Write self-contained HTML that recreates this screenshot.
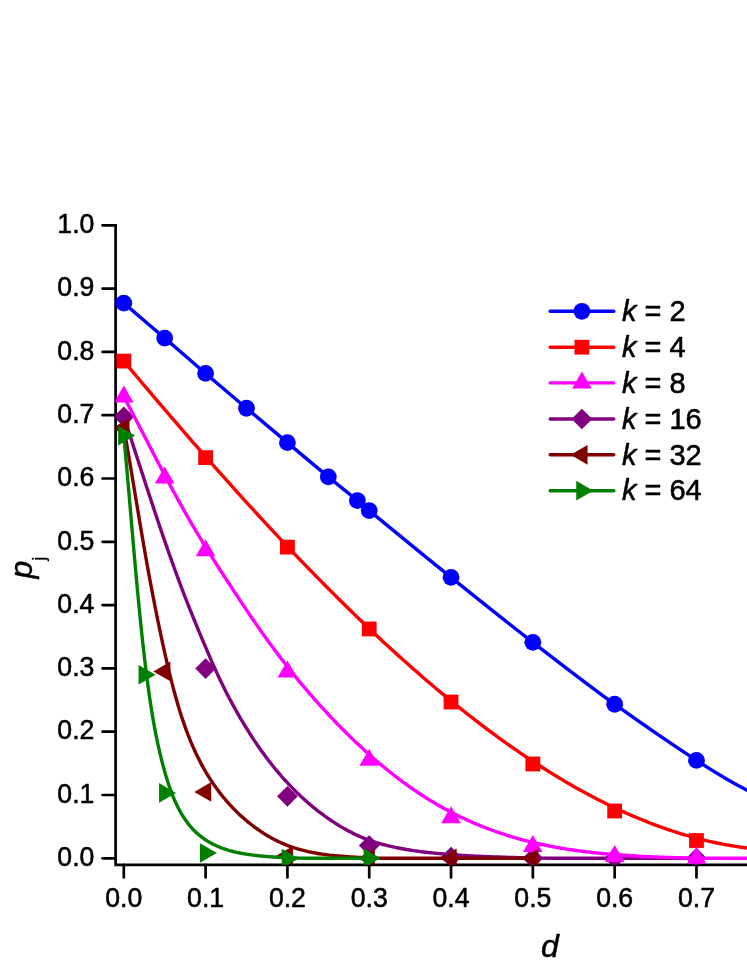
<!DOCTYPE html>
<html><head><meta charset="utf-8"><title>chart</title>
<style>html,body{margin:0;padding:0;background:#fff;}body{width:747px;height:967px;overflow:hidden;font-family:"Liberation Sans",sans-serif;}</style>
</head><body>
<svg width="747" height="967" viewBox="0 0 747 967" style="display:block;will-change:transform">
<rect width="747" height="967" fill="#ffffff"/>
<g stroke="#000" stroke-width="2.7" fill="none">
<path d="M115.6,223.95 L115.6,864.9 L752,864.9" stroke-linejoin="miter"/>
</g>
<g stroke="#000" stroke-width="2.7" stroke-linecap="round">
<line x1="102.6" y1="858.30" x2="115.6" y2="858.30"/>
<line x1="102.6" y1="795.00" x2="115.6" y2="795.00"/>
<line x1="102.6" y1="731.70" x2="115.6" y2="731.70"/>
<line x1="102.6" y1="668.40" x2="115.6" y2="668.40"/>
<line x1="102.6" y1="605.10" x2="115.6" y2="605.10"/>
<line x1="102.6" y1="541.80" x2="115.6" y2="541.80"/>
<line x1="102.6" y1="478.50" x2="115.6" y2="478.50"/>
<line x1="102.6" y1="415.20" x2="115.6" y2="415.20"/>
<line x1="102.6" y1="351.90" x2="115.6" y2="351.90"/>
<line x1="102.6" y1="288.60" x2="115.6" y2="288.60"/>
<line x1="102.6" y1="225.30" x2="115.6" y2="225.30"/>
<line x1="123.80" y1="864.9" x2="123.80" y2="877.4"/>
<line x1="205.61" y1="864.9" x2="205.61" y2="877.4"/>
<line x1="287.42" y1="864.9" x2="287.42" y2="877.4"/>
<line x1="369.23" y1="864.9" x2="369.23" y2="877.4"/>
<line x1="451.04" y1="864.9" x2="451.04" y2="877.4"/>
<line x1="532.85" y1="864.9" x2="532.85" y2="877.4"/>
<line x1="614.66" y1="864.9" x2="614.66" y2="877.4"/>
<line x1="696.47" y1="864.9" x2="696.47" y2="877.4"/>
</g>
<defs><clipPath id="pc"><rect x="115.55" y="0" width="700" height="864.85"/></clipPath></defs>
<g clip-path="url(#pc)">
<path d="M123.80,303.16 C130.62,308.98 151.07,326.39 164.70,338.10 C178.34,349.81 191.98,361.73 205.61,373.42 C219.25,385.11 232.88,396.70 246.51,408.24 C260.15,419.78 273.79,431.23 287.42,442.67 C301.06,454.12 316.67,467.27 328.32,476.92 C339.98,486.56 350.55,494.92 357.37,500.53 C364.19,506.14 353.62,497.79 369.23,510.59 C384.84,523.40 423.77,555.42 451.04,577.37 C478.31,599.33 505.58,621.18 532.85,642.32 C560.12,663.46 587.39,684.55 614.66,704.23 C641.93,723.90 674.41,746.06 696.47,760.37 C718.53,774.69 731.41,782.50 747.00,790.10 C762.59,797.70 782.83,803.35 790.00,806.00" fill="none" stroke="#0000ff" stroke-width="3.4" stroke-linejoin="round" stroke-linecap="round"/>
<circle cx="123.80" cy="303.16" r="8.4" fill="#0000ff"/>
<circle cx="164.70" cy="338.10" r="8.4" fill="#0000ff"/>
<circle cx="205.61" cy="373.42" r="8.4" fill="#0000ff"/>
<circle cx="246.51" cy="408.24" r="8.4" fill="#0000ff"/>
<circle cx="287.42" cy="442.67" r="8.4" fill="#0000ff"/>
<circle cx="328.32" cy="476.92" r="8.4" fill="#0000ff"/>
<circle cx="357.37" cy="500.53" r="8.4" fill="#0000ff"/>
<circle cx="369.23" cy="510.59" r="8.4" fill="#0000ff"/>
<circle cx="451.04" cy="577.37" r="8.4" fill="#0000ff"/>
<circle cx="532.85" cy="642.32" r="8.4" fill="#0000ff"/>
<circle cx="614.66" cy="704.23" r="8.4" fill="#0000ff"/>
<circle cx="696.47" cy="760.37" r="8.4" fill="#0000ff"/>
<path d="M123.70,361.06 C124.63,362.17 127.43,365.51 129.30,367.73 C131.17,369.95 133.03,372.17 134.90,374.38 C136.76,376.60 138.63,378.81 140.50,381.01 C142.36,383.22 144.23,385.43 146.10,387.63 C147.96,389.83 149.83,392.03 151.70,394.23 C153.56,396.42 155.43,398.62 157.29,400.80 C159.16,402.99 161.03,405.18 162.89,407.36 C164.76,409.54 166.63,411.72 168.49,413.90 C170.36,416.07 172.23,418.24 174.09,420.41 C175.96,422.58 177.83,424.74 179.69,426.90 C181.56,429.06 183.42,431.21 185.29,433.37 C187.16,435.52 189.02,437.67 190.89,439.81 C192.76,441.95 194.62,444.09 196.49,446.23 C198.36,448.36 200.22,450.50 202.09,452.62 C203.95,454.75 205.82,456.87 207.69,458.99 C209.55,461.11 211.42,463.22 213.29,465.33 C215.15,467.44 217.02,469.55 218.89,471.65 C220.75,473.75 222.62,475.84 224.48,477.93 C226.35,480.02 228.22,482.11 230.08,484.19 C231.95,486.27 233.82,488.35 235.68,490.42 C237.55,492.49 239.42,494.55 241.28,496.62 C243.15,498.68 245.02,500.73 246.88,502.78 C248.75,504.83 250.61,506.88 252.48,508.92 C254.35,510.96 256.21,513.00 258.08,515.02 C259.95,517.05 261.81,519.08 263.68,521.10 C265.55,523.11 267.41,525.13 269.28,527.14 C271.14,529.14 273.01,531.14 274.88,533.14 C276.74,535.14 278.61,537.13 280.48,539.11 C282.34,541.09 284.21,543.07 286.08,545.04 C287.94,547.02 289.81,548.98 291.67,550.94 C293.54,552.90 295.41,554.86 297.27,556.81 C299.14,558.75 301.01,560.70 302.87,562.63 C304.74,564.57 306.61,566.49 308.47,568.42 C310.34,570.34 312.21,572.26 314.07,574.17 C315.94,576.08 317.80,577.98 319.67,579.87 C321.54,581.77 323.40,583.66 325.27,585.54 C327.14,587.43 329.00,589.30 330.87,591.17 C332.74,593.04 334.60,594.90 336.47,596.76 C338.33,598.61 340.20,600.46 342.07,602.30 C343.93,604.15 345.80,605.98 347.67,607.81 C349.53,609.63 351.40,611.45 353.27,613.27 C355.13,615.08 357.00,616.88 358.86,618.68 C360.73,620.48 362.60,622.27 364.46,624.05 C366.33,625.83 368.20,627.61 370.06,629.38 C371.93,631.14 373.80,632.90 375.66,634.65 C377.53,636.41 379.39,638.15 381.26,639.89 C383.13,641.62 384.99,643.35 386.86,645.07 C388.73,646.79 390.59,648.50 392.46,650.21 C394.33,651.91 396.19,653.61 398.06,655.30 C399.93,656.99 401.79,658.66 403.66,660.34 C405.52,662.01 407.39,663.67 409.26,665.33 C411.12,666.98 412.99,668.63 414.86,670.26 C416.72,671.90 418.59,673.53 420.46,675.15 C422.32,676.77 424.19,678.38 426.05,679.98 C427.92,681.59 429.79,683.18 431.65,684.77 C433.52,686.35 435.39,687.93 437.25,689.50 C439.12,691.06 440.99,692.62 442.85,694.17 C444.72,695.72 446.58,697.26 448.45,698.79 C450.32,700.32 452.18,701.84 454.05,703.35 C455.92,704.87 457.78,706.37 459.65,707.86 C461.52,709.36 463.38,710.84 465.25,712.31 C467.12,713.79 468.98,715.25 470.85,716.71 C472.71,718.16 474.58,719.61 476.45,721.04 C478.31,722.48 480.18,723.91 482.05,725.32 C483.91,726.74 485.78,728.14 487.65,729.54 C489.51,730.94 491.38,732.32 493.24,733.70 C495.11,735.07 496.98,736.44 498.84,737.79 C500.71,739.15 502.58,740.50 504.44,741.83 C506.31,743.17 508.18,744.49 510.04,745.80 C511.91,747.12 513.77,748.42 515.64,749.71 C517.51,751.01 519.37,752.29 521.24,753.56 C523.11,754.83 524.97,756.10 526.84,757.35 C528.71,758.60 530.57,759.84 532.44,761.06 C534.31,762.29 536.17,763.51 538.04,764.72 C539.90,765.92 541.77,767.12 543.64,768.30 C545.50,769.49 547.37,770.66 549.24,771.82 C551.10,772.99 552.97,774.14 554.84,775.28 C556.70,776.42 558.57,777.54 560.43,778.66 C562.30,779.78 564.17,780.88 566.03,781.98 C567.90,783.07 569.77,784.15 571.63,785.22 C573.50,786.29 575.37,787.35 577.23,788.40 C579.10,789.45 580.96,790.48 582.83,791.50 C584.70,792.53 586.56,793.54 588.43,794.54 C590.30,795.54 592.16,796.52 594.03,797.50 C595.90,798.47 597.76,799.44 599.63,800.39 C601.49,801.34 603.36,802.28 605.23,803.20 C607.09,804.13 608.96,805.04 610.83,805.94 C612.69,806.85 614.56,807.73 616.43,808.61 C618.29,809.49 620.16,810.35 622.03,811.20 C623.89,812.05 625.76,812.89 627.62,813.72 C629.49,814.54 631.36,815.35 633.22,816.15 C635.09,816.95 636.96,817.74 638.82,818.51 C640.69,819.29 642.56,820.05 644.42,820.80 C646.29,821.54 648.15,822.28 650.02,823.00 C651.89,823.72 653.75,824.43 655.62,825.12 C657.49,825.82 659.35,826.50 661.22,827.17 C663.09,827.83 664.95,828.49 666.82,829.13 C668.68,829.77 670.55,830.40 672.42,831.01 C674.28,831.62 676.15,832.22 678.02,832.81 C679.88,833.39 681.75,833.97 683.62,834.52 C685.48,835.08 687.35,835.63 689.22,836.16 C691.08,836.69 692.95,837.20 694.81,837.71 C696.68,838.21 698.55,838.69 700.41,839.17 C702.28,839.64 704.15,840.10 706.01,840.55 C707.88,840.99 709.75,841.42 711.61,841.84 C713.48,842.25 715.34,842.66 717.21,843.04 C719.08,843.43 720.94,843.80 722.81,844.16 C724.68,844.52 726.54,844.86 728.41,845.19 C730.28,845.52 732.14,845.83 734.01,846.13 C735.87,846.43 737.74,846.71 739.61,846.98 C741.47,847.25 743.34,847.50 745.21,847.74 C747.07,847.98 748.94,848.20 750.81,848.41 C752.67,848.61 754.54,848.81 756.41,848.98 C758.27,849.16 760.14,849.32 762.00,849.47 C763.87,849.62 765.74,849.75 767.60,849.86 C769.47,849.98 771.34,850.08 773.20,850.16 C775.07,850.24 776.94,850.31 778.80,850.36 C780.67,850.42 782.53,850.45 784.40,850.47 C786.27,850.49 789.07,850.48 790.00,850.49" fill="none" stroke="#ff0000" stroke-width="3.4" stroke-linejoin="round" stroke-linecap="round"/>
<rect x="116.40" y="353.68" width="14.8" height="14.8" fill="#ff0000"/>
<rect x="198.21" y="450.21" width="14.8" height="14.8" fill="#ff0000"/>
<rect x="280.02" y="539.72" width="14.8" height="14.8" fill="#ff0000"/>
<rect x="361.83" y="621.56" width="14.8" height="14.8" fill="#ff0000"/>
<rect x="443.64" y="694.61" width="14.8" height="14.8" fill="#ff0000"/>
<rect x="525.45" y="756.58" width="14.8" height="14.8" fill="#ff0000"/>
<rect x="607.26" y="803.61" width="14.8" height="14.8" fill="#ff0000"/>
<rect x="689.07" y="833.11" width="14.8" height="14.8" fill="#ff0000"/>
<path d="M123.80,416.80 C123.81,416.82 123.82,416.85 123.85,416.92 C123.87,416.99 123.91,417.10 123.95,417.23 C123.99,417.35 124.04,417.50 124.09,417.67 C124.15,417.83 124.21,418.02 124.28,418.23 C124.34,418.43 124.42,418.66 124.50,418.89 C124.58,419.13 124.66,419.39 124.75,419.66 C124.84,419.94 124.94,420.22 125.04,420.53 C125.14,420.83 125.24,421.15 125.35,421.48 C125.46,421.82 125.58,422.17 125.69,422.53 C125.81,422.89 125.94,423.27 126.07,423.66 C126.19,424.05 126.33,424.46 126.46,424.87 C126.60,425.29 126.74,425.72 126.89,426.17 C127.04,426.61 127.19,427.07 127.34,427.54 C127.49,428.01 127.65,428.50 127.82,429.00 C127.98,429.49 128.14,430.00 128.31,430.52 C128.49,431.05 128.66,431.58 128.84,432.13 C129.02,432.67 129.20,433.23 129.39,433.80 C129.57,434.37 129.76,434.96 129.96,435.55 C130.15,436.15 130.35,436.75 130.55,437.37 C130.75,437.99 130.95,438.62 131.16,439.26 C131.37,439.90 131.58,440.55 131.80,441.22 C132.02,441.88 132.23,442.56 132.46,443.24 C132.68,443.93 132.91,444.63 133.14,445.34 C133.37,446.05 133.60,446.77 133.84,447.50 C134.08,448.23 134.32,448.97 134.56,449.72 C134.80,450.47 135.05,451.24 135.30,452.01 C135.55,452.78 135.81,453.57 136.06,454.36 C136.32,455.16 136.58,455.96 136.85,456.78 C137.11,457.59 137.38,458.42 137.65,459.25 C137.92,460.09 138.19,460.93 138.47,461.79 C138.75,462.65 139.03,463.51 139.31,464.39 C139.59,465.26 139.88,466.15 140.17,467.04 C140.46,467.93 140.75,468.84 141.05,469.75 C141.35,470.67 141.64,471.59 141.95,472.52 C142.25,473.45 142.56,474.39 142.86,475.34 C143.17,476.30 143.48,477.25 143.80,478.22 C144.11,479.19 144.43,480.17 144.75,481.15 C145.07,482.14 145.40,483.14 145.72,484.14 C146.05,485.14 146.38,486.15 146.71,487.17 C147.05,488.19 147.38,489.22 147.72,490.26 C148.06,491.29 148.40,492.34 148.75,493.39 C149.09,494.44 149.44,495.50 149.79,496.57 C150.14,497.64 150.50,498.71 150.85,499.80 C151.21,500.88 151.57,501.97 151.93,503.07 C152.29,504.16 152.66,505.27 153.03,506.38 C153.39,507.49 153.76,508.61 154.14,509.74 C154.51,510.86 154.89,511.99 155.27,513.13 C155.65,514.27 156.03,515.42 156.41,516.57 C156.80,517.72 157.19,518.88 157.58,520.04 C157.97,521.20 158.36,522.37 158.76,523.55 C159.15,524.72 159.55,525.90 159.95,527.09 C160.36,528.28 160.76,529.47 161.17,530.67 C161.58,531.86 161.99,533.07 162.40,534.27 C162.81,535.48 163.23,536.69 163.64,537.91 C164.06,539.13 164.48,540.35 164.91,541.57 C165.33,542.80 165.76,544.03 166.19,545.26 C166.61,546.50 167.05,547.73 167.48,548.98 C167.91,550.22 168.35,551.46 168.79,552.71 C169.23,553.96 169.67,555.22 170.12,556.47 C170.56,557.73 171.01,558.99 171.46,560.25 C171.91,561.51 172.36,562.77 172.82,564.04 C173.27,565.31 173.73,566.58 174.19,567.85 C174.65,569.12 175.12,570.40 175.58,571.67 C176.05,572.95 176.52,574.23 176.99,575.51 C177.46,576.79 177.93,578.07 178.41,579.35 C178.88,580.64 179.36,581.92 179.84,583.21 C180.32,584.49 180.81,585.78 181.29,587.07 C181.78,588.35 182.27,589.64 182.76,590.93 C183.25,592.22 183.75,593.51 184.24,594.80 C184.74,596.08 185.24,597.37 185.74,598.66 C186.24,599.95 186.74,601.24 187.25,602.53 C187.76,603.82 188.27,605.10 188.78,606.39 C189.29,607.68 189.80,608.97 190.32,610.26 C190.84,611.55 191.35,612.83 191.88,614.12 C192.40,615.41 192.92,616.71 193.45,618.00 C193.97,619.29 194.50,620.58 195.03,621.88 C195.56,623.17 196.10,624.47 196.63,625.77 C197.17,627.07 197.71,628.37 198.25,629.67 C198.79,630.98 199.33,632.28 199.88,633.59 C200.42,634.90 200.97,636.21 201.52,637.53 C202.07,638.84 202.63,640.16 203.18,641.48 C203.74,642.80 204.29,644.12 204.85,645.45 C205.41,646.78 205.98,648.10 206.54,649.43 C207.11,650.76 207.67,652.09 208.24,653.42 C208.81,654.75 209.39,656.07 209.96,657.40 C210.53,658.73 211.11,660.05 211.69,661.37 C212.27,662.69 212.85,664.01 213.43,665.32 C214.02,666.63 214.60,667.94 215.19,669.24 C215.78,670.55 216.37,671.84 216.97,673.13 C217.56,674.42 218.15,675.71 218.75,676.98 C219.35,678.26 219.95,679.53 220.55,680.79 C221.16,682.04 221.76,683.30 222.37,684.54 C222.97,685.78 223.58,687.01 224.20,688.24 C224.81,689.47 225.42,690.68 226.04,691.90 C226.65,693.11 227.27,694.31 227.89,695.50 C228.51,696.70 229.14,697.89 229.76,699.07 C230.39,700.25 231.02,701.42 231.65,702.59 C232.28,703.76 232.91,704.92 233.54,706.07 C234.18,707.22 234.82,708.37 235.45,709.51 C236.09,710.65 236.73,711.78 237.38,712.91 C238.02,714.04 238.67,715.16 239.32,716.27 C239.96,717.39 240.61,718.50 241.27,719.60 C241.92,720.70 242.57,721.80 243.23,722.89 C243.89,723.98 244.55,725.06 245.21,726.14 C245.87,727.22 246.53,728.30 247.20,729.36 C247.87,730.43 248.53,731.49 249.20,732.55 C249.88,733.61 250.55,734.66 251.22,735.71 C251.90,736.76 252.57,737.80 253.25,738.83 C253.93,739.87 254.61,740.90 255.30,741.92 C255.98,742.95 256.67,743.96 257.36,744.97 C258.04,745.98 258.73,746.98 259.43,747.97 C260.12,748.97 260.81,749.95 261.51,750.93 C262.21,751.91 262.91,752.88 263.61,753.84 C264.31,754.80 265.01,755.76 265.72,756.70 C266.42,757.65 267.13,758.59 267.84,759.52 C268.55,760.45 269.26,761.38 269.98,762.29 C270.69,763.21 271.41,764.12 272.12,765.02 C272.84,765.93 273.56,766.82 274.29,767.71 C275.01,768.60 275.73,769.48 276.46,770.35 C277.19,771.22 277.92,772.09 278.65,772.95 C279.38,773.81 280.11,774.66 280.85,775.50 C281.58,776.35 282.32,777.19 283.06,778.02 C283.80,778.85 284.54,779.67 285.29,780.49 C286.03,781.30 286.78,782.11 287.52,782.92 C288.27,783.72 289.02,784.52 289.77,785.30 C290.53,786.09 291.28,786.88 292.04,787.65 C292.79,788.43 293.55,789.19 294.31,789.96 C295.08,790.72 295.84,791.47 296.60,792.22 C297.37,792.97 298.14,793.71 298.90,794.45 C299.67,795.18 300.44,795.91 301.22,796.63 C301.99,797.35 302.77,798.07 303.54,798.77 C304.32,799.48 305.10,800.18 305.88,800.88 C306.67,801.57 307.45,802.26 308.23,802.94 C309.02,803.62 309.81,804.30 310.60,804.97 C311.39,805.63 312.18,806.30 312.97,806.95 C313.77,807.61 314.56,808.25 315.36,808.90 C316.16,809.54 316.96,810.17 317.76,810.80 C318.57,811.43 319.37,812.05 320.18,812.66 C320.98,813.28 321.79,813.88 322.60,814.48 C323.41,815.09 324.22,815.68 325.04,816.27 C325.85,816.85 326.67,817.43 327.49,818.01 C328.31,818.58 329.13,819.15 329.95,819.71 C330.77,820.27 331.60,820.82 332.42,821.37 C333.25,821.91 334.08,822.45 334.91,822.99 C335.74,823.52 336.57,824.04 337.41,824.56 C338.24,825.08 339.08,825.59 339.92,826.10 C340.76,826.61 341.60,827.10 342.44,827.60 C343.29,828.09 344.13,828.57 344.98,829.05 C345.82,829.52 346.67,829.99 347.52,830.46 C348.37,830.92 349.23,831.37 350.08,831.81 C350.94,832.26 351.79,832.69 352.65,833.12 C353.51,833.55 354.37,833.97 355.23,834.38 C356.10,834.79 356.96,835.19 357.83,835.59 C358.70,835.98 359.56,836.36 360.44,836.74 C361.31,837.11 362.18,837.48 363.05,837.84 C363.93,838.20 364.81,838.54 365.68,838.89 C366.56,839.23 367.44,839.56 368.33,839.88 C369.21,840.20 370.09,840.52 370.98,840.82 C371.87,841.13 372.75,841.43 373.64,841.72 C374.54,842.01 375.43,842.29 376.32,842.57 C377.22,842.84 378.11,843.11 379.01,843.37 C379.91,843.63 380.81,843.89 381.71,844.14 C382.61,844.38 383.52,844.62 384.42,844.86 C385.33,845.10 386.24,845.33 387.15,845.55 C388.06,845.77 388.97,845.99 389.88,846.20 C390.80,846.42 391.71,846.62 392.63,846.83 C393.55,847.03 394.47,847.23 395.39,847.42 C396.31,847.61 397.23,847.80 398.16,847.98 C399.09,848.16 400.01,848.34 400.94,848.51 C401.87,848.69 402.80,848.86 403.74,849.02 C404.67,849.19 405.60,849.35 406.54,849.50 C407.48,849.66 408.42,849.81 409.36,849.96 C410.30,850.11 411.24,850.26 412.19,850.40 C413.13,850.54 414.08,850.68 415.02,850.82 C415.97,850.95 416.92,851.08 417.88,851.21 C418.83,851.34 419.78,851.47 420.74,851.59 C421.69,851.71 422.65,851.83 423.61,851.95 C424.57,852.06 425.53,852.18 426.50,852.29 C427.46,852.40 428.43,852.51 429.39,852.61 C430.36,852.72 431.33,852.82 432.30,852.93 C433.27,853.03 434.25,853.12 435.22,853.22 C436.20,853.32 437.17,853.41 438.15,853.50 C439.13,853.59 440.11,853.68 441.09,853.77 C442.08,853.86 443.06,853.94 444.05,854.03 C445.03,854.11 446.02,854.19 447.01,854.27 C448.00,854.35 448.99,854.43 449.99,854.50 C450.98,854.58 451.98,854.65 452.97,854.73 C453.97,854.80 454.97,854.87 455.97,854.94 C456.97,855.01 457.98,855.08 458.98,855.14 C459.99,855.21 460.99,855.27 462.00,855.33 C463.01,855.40 464.02,855.46 465.03,855.52 C466.05,855.58 467.06,855.64 468.08,855.69 C469.09,855.75 470.11,855.81 471.13,855.86 C472.15,855.92 473.17,855.97 474.19,856.02 C475.22,856.07 476.24,856.13 477.27,856.17 C478.30,856.22 479.33,856.27 480.36,856.32 C481.39,856.37 482.42,856.41 483.46,856.46 C484.49,856.51 485.53,856.55 486.57,856.59 C487.60,856.64 488.64,856.68 489.69,856.72 C490.73,856.76 491.77,856.80 492.82,856.84 C493.86,856.88 494.91,856.92 495.96,856.96 C497.01,856.99 498.06,857.03 499.11,857.07 C500.16,857.10 501.22,857.14 502.28,857.17 C503.33,857.21 504.39,857.24 505.45,857.27 C506.51,857.30 507.57,857.34 508.64,857.37 C509.70,857.40 510.77,857.43 511.83,857.46 C512.90,857.49 513.97,857.52 515.04,857.55 C516.11,857.57 517.18,857.60 518.26,857.63 C519.33,857.66 520.41,857.68 521.49,857.71 C522.57,857.73 523.65,857.76 524.73,857.78 C525.81,857.81 526.89,857.83 527.98,857.85 C529.07,857.88 530.15,857.90 531.24,857.92 C532.33,857.94 533.42,857.97 534.51,857.99 C535.61,858.01 536.70,858.03 537.80,858.05 C538.89,858.07 539.99,858.09 541.09,858.11 C542.19,858.13 543.29,858.14 544.40,858.16 C545.50,858.18 546.61,858.20 547.71,858.21 C548.82,858.23 549.93,858.25 551.04,858.26 C552.15,858.28 553.26,858.29 554.38,858.30 C555.49,858.31 556.61,858.30 557.72,858.30 C558.84,858.30 559.96,858.30 561.08,858.30 C562.20,858.30 563.33,858.30 564.45,858.30 C565.58,858.30 566.70,858.30 567.83,858.30 C568.96,858.30 570.09,858.30 571.22,858.30 C572.35,858.30 573.49,858.30 574.62,858.30 C575.76,858.30 576.89,858.30 578.03,858.30 C579.17,858.30 580.31,858.30 581.46,858.30 C582.60,858.30 583.74,858.30 584.89,858.30 C586.03,858.30 587.18,858.30 588.33,858.30 C589.48,858.30 590.63,858.30 591.79,858.30 C592.94,858.30 594.09,858.30 595.25,858.30 C596.41,858.30 597.56,858.30 598.72,858.30 C599.88,858.30 601.05,858.30 602.21,858.30 C603.37,858.30 604.54,858.30 605.71,858.30 C606.87,858.30 608.04,858.30 609.21,858.30 C610.38,858.30 611.55,858.30 612.73,858.30 C613.90,858.30 615.08,858.30 616.26,858.30 C617.43,858.30 618.61,858.30 619.79,858.30 C620.97,858.30 622.16,858.30 623.34,858.30 C624.53,858.30 625.71,858.30 626.90,858.30 C628.09,858.30 629.28,858.30 630.47,858.30 C631.66,858.30 632.85,858.30 634.05,858.30 C635.24,858.30 636.44,858.30 637.64,858.30 C638.84,858.30 640.04,858.30 641.24,858.30 C642.44,858.30 643.64,858.30 644.85,858.30 C646.05,858.30 647.26,858.30 648.47,858.30 C649.68,858.30 650.89,858.30 652.10,858.30 C653.31,858.30 654.52,858.30 655.74,858.30 C656.96,858.30 658.17,858.30 659.39,858.30 C660.61,858.30 661.83,858.30 663.05,858.30 C664.28,858.30 665.50,858.30 666.73,858.30 C667.95,858.30 669.18,858.30 670.41,858.30 C671.64,858.30 672.87,858.30 674.10,858.30 C675.33,858.30 676.57,858.30 677.80,858.30 C679.04,858.30 680.28,858.30 681.52,858.30 C682.76,858.30 684.00,858.30 685.24,858.30 C686.48,858.30 687.73,858.30 688.97,858.30 C690.22,858.30 691.47,858.30 692.72,858.30 C693.97,858.30 695.84,858.30 696.47,858.30" fill="none" stroke="#800080" stroke-width="3.4" stroke-linejoin="round" stroke-linecap="round"/>
<polygon points="123.80,406.43 134.15,416.78 123.80,427.13 113.45,416.78" fill="#800080"/>
<polygon points="205.61,658.24 215.96,668.59 205.61,678.94 195.26,668.59" fill="#800080"/>
<polygon points="287.42,785.98 297.77,796.33 287.42,806.68 277.07,796.33" fill="#800080"/>
<polygon points="369.23,835.23 379.58,845.58 369.23,855.93 358.88,845.58" fill="#800080"/>
<polygon points="451.04,846.87 461.39,857.22 451.04,867.57 440.69,857.22" fill="#800080"/>
<polygon points="532.85,847.82 543.20,858.17 532.85,868.52 522.50,858.17" fill="#800080"/>
<polygon points="614.66,847.82 625.01,858.17 614.66,868.52 604.31,858.17" fill="#800080"/>
<polygon points="696.47,847.82 706.82,858.17 696.47,868.52 686.12,858.17" fill="#800080"/>
<path d="M123.80,396.90 C123.81,396.90 123.82,396.89 123.85,396.90 C123.88,396.91 123.92,396.89 123.96,396.95 C124.01,397.01 124.06,397.14 124.13,397.25 C124.19,397.37 124.26,397.50 124.33,397.64 C124.41,397.78 124.49,397.93 124.57,398.10 C124.66,398.26 124.76,398.44 124.86,398.63 C124.96,398.81 125.06,399.01 125.17,399.22 C125.28,399.43 125.40,399.65 125.52,399.88 C125.64,400.11 125.77,400.35 125.90,400.60 C126.04,400.85 126.17,401.11 126.32,401.38 C126.46,401.65 126.61,401.93 126.76,402.22 C126.91,402.51 127.07,402.81 127.23,403.11 C127.39,403.42 127.56,403.74 127.73,404.06 C127.90,404.39 128.08,404.72 128.26,405.06 C128.44,405.41 128.63,405.76 128.82,406.12 C129.01,406.48 129.20,406.85 129.40,407.23 C129.60,407.60 129.80,407.99 130.01,408.38 C130.21,408.78 130.42,409.18 130.64,409.59 C130.85,410.00 131.07,410.42 131.30,410.85 C131.52,411.28 131.75,411.71 131.98,412.16 C132.21,412.60 132.45,413.05 132.69,413.51 C132.93,413.97 133.17,414.44 133.42,414.91 C133.67,415.39 133.92,415.87 134.17,416.36 C134.43,416.86 134.69,417.35 134.95,417.86 C135.22,418.37 135.48,418.88 135.75,419.40 C136.02,419.93 136.30,420.45 136.58,420.99 C136.86,421.53 137.14,422.07 137.42,422.62 C137.71,423.18 138.00,423.73 138.29,424.30 C138.59,424.87 138.88,425.44 139.18,426.02 C139.48,426.60 139.79,427.19 140.10,427.79 C140.40,428.38 140.72,428.98 141.03,429.59 C141.35,430.20 141.66,430.82 141.99,431.44 C142.31,432.06 142.63,432.69 142.96,433.33 C143.29,433.97 143.62,434.61 143.96,435.26 C144.30,435.91 144.64,436.57 144.98,437.23 C145.32,437.90 145.67,438.57 146.02,439.24 C146.37,439.92 146.72,440.60 147.08,441.29 C147.43,441.98 147.79,442.68 148.16,443.38 C148.52,444.08 148.89,444.79 149.26,445.51 C149.63,446.22 150.00,446.94 150.38,447.67 C150.75,448.40 151.13,449.13 151.52,449.87 C151.90,450.61 152.28,451.35 152.67,452.10 C153.06,452.85 153.46,453.61 153.85,454.37 C154.25,455.13 154.65,455.90 155.05,456.67 C155.45,457.45 155.86,458.23 156.27,459.01 C156.68,459.79 157.09,460.58 157.50,461.38 C157.92,462.17 158.34,462.97 158.76,463.78 C159.18,464.58 159.60,465.39 160.03,466.21 C160.46,467.02 160.89,467.84 161.32,468.67 C161.76,469.49 162.20,470.32 162.64,471.16 C163.08,471.99 163.52,472.83 163.97,473.67 C164.41,474.52 164.86,475.37 165.31,476.22 C165.77,477.07 166.22,477.93 166.68,478.79 C167.14,479.65 167.60,480.51 168.06,481.38 C168.53,482.25 169.00,483.12 169.47,484.00 C169.94,484.88 170.41,485.76 170.89,486.64 C171.36,487.52 171.84,488.41 172.33,489.30 C172.81,490.19 173.29,491.09 173.78,491.99 C174.27,492.88 174.76,493.78 175.26,494.69 C175.75,495.59 176.25,496.50 176.75,497.41 C177.25,498.32 177.75,499.23 178.26,500.15 C178.76,501.06 179.27,501.98 179.78,502.90 C180.29,503.82 180.81,504.74 181.33,505.67 C181.84,506.59 182.36,507.52 182.89,508.45 C183.41,509.38 183.94,510.31 184.46,511.24 C184.99,512.18 185.53,513.11 186.06,514.05 C186.59,514.98 187.13,515.92 187.67,516.86 C188.21,517.80 188.76,518.74 189.30,519.69 C189.85,520.63 190.40,521.57 190.95,522.52 C191.50,523.46 192.05,524.41 192.61,525.35 C193.17,526.30 193.73,527.25 194.29,528.20 C194.85,529.15 195.42,530.10 195.99,531.05 C196.55,532.01 197.12,532.96 197.70,533.92 C198.27,534.87 198.85,535.83 199.43,536.79 C200.01,537.74 200.59,538.70 201.17,539.66 C201.76,540.63 202.34,541.59 202.93,542.55 C203.52,543.52 204.12,544.48 204.71,545.45 C205.31,546.41 205.91,547.38 206.51,548.35 C207.11,549.32 207.71,550.29 208.32,551.27 C208.92,552.24 209.53,553.22 210.14,554.19 C210.76,555.17 211.37,556.15 211.99,557.13 C212.60,558.11 213.22,559.09 213.85,560.07 C214.47,561.05 215.09,562.04 215.72,563.03 C216.35,564.01 216.98,565.00 217.61,565.99 C218.24,566.98 218.88,567.98 219.52,568.97 C220.16,569.97 220.80,570.96 221.44,571.96 C222.08,572.96 222.73,573.96 223.38,574.96 C224.03,575.97 224.68,576.97 225.33,577.98 C225.99,578.99 226.64,579.99 227.30,581.01 C227.96,582.02 228.62,583.03 229.29,584.05 C229.95,585.06 230.62,586.08 231.29,587.10 C231.96,588.12 232.63,589.15 233.30,590.17 C233.98,591.20 234.65,592.22 235.33,593.25 C236.01,594.28 236.70,595.32 237.38,596.35 C238.06,597.39 238.75,598.42 239.44,599.46 C240.13,600.50 240.82,601.54 241.52,602.59 C242.21,603.63 242.91,604.67 243.61,605.72 C244.31,606.77 245.01,607.81 245.72,608.86 C246.42,609.91 247.13,610.96 247.84,612.01 C248.55,613.06 249.26,614.12 249.98,615.17 C250.69,616.22 251.41,617.27 252.13,618.33 C252.85,619.38 253.57,620.43 254.30,621.49 C255.02,622.54 255.75,623.59 256.48,624.65 C257.21,625.70 257.94,626.75 258.68,627.81 C259.41,628.86 260.15,629.91 260.89,630.96 C261.63,632.01 262.37,633.06 263.12,634.11 C263.86,635.16 264.61,636.20 265.36,637.25 C266.11,638.30 266.86,639.34 267.62,640.38 C268.37,641.42 269.13,642.47 269.89,643.50 C270.65,644.54 271.41,645.58 272.17,646.62 C272.94,647.65 273.70,648.68 274.47,649.72 C275.24,650.75 276.01,651.78 276.79,652.80 C277.56,653.83 278.34,654.86 279.12,655.88 C279.90,656.91 280.68,657.93 281.46,658.95 C282.24,659.97 283.03,660.99 283.82,662.00 C284.61,663.02 285.40,664.03 286.19,665.05 C286.98,666.06 287.78,667.07 288.58,668.08 C289.38,669.09 290.18,670.09 290.98,671.10 C291.78,672.10 292.59,673.10 293.40,674.10 C294.20,675.10 295.01,676.10 295.83,677.10 C296.64,678.09 297.45,679.09 298.27,680.08 C299.09,681.07 299.91,682.06 300.73,683.05 C301.55,684.03 302.37,685.02 303.20,686.00 C304.03,686.98 304.86,687.96 305.69,688.94 C306.52,689.92 307.35,690.90 308.19,691.87 C309.02,692.84 309.86,693.82 310.70,694.78 C311.54,695.75 312.39,696.72 313.23,697.68 C314.08,698.65 314.92,699.61 315.77,700.57 C316.62,701.53 317.48,702.49 318.33,703.44 C319.18,704.39 320.04,705.35 320.90,706.29 C321.76,707.24 322.62,708.19 323.48,709.14 C324.35,710.08 325.21,711.02 326.08,711.96 C326.95,712.90 327.82,713.83 328.70,714.77 C329.57,715.70 330.44,716.63 331.32,717.56 C332.20,718.49 333.08,719.41 333.96,720.34 C334.84,721.26 335.73,722.18 336.61,723.10 C337.50,724.01 338.39,724.93 339.28,725.84 C340.17,726.75 341.07,727.66 341.96,728.56 C342.86,729.47 343.76,730.37 344.66,731.27 C345.56,732.17 346.46,733.06 347.36,733.95 C348.27,734.85 349.18,735.74 350.09,736.62 C350.99,737.51 351.91,738.39 352.82,739.27 C353.73,740.15 354.65,741.03 355.57,741.90 C356.49,742.78 357.41,743.65 358.33,744.51 C359.25,745.38 360.18,746.24 361.11,747.10 C362.03,747.96 362.96,748.82 363.90,749.67 C364.83,750.52 365.76,751.37 366.70,752.22 C367.63,753.06 368.57,753.91 369.51,754.74 C370.45,755.58 371.40,756.42 372.34,757.25 C373.29,758.07 374.24,758.90 375.18,759.72 C376.13,760.54 377.09,761.36 378.04,762.18 C378.99,762.99 379.95,763.80 380.91,764.60 C381.87,765.41 382.83,766.21 383.79,767.00 C384.75,767.80 385.72,768.59 386.69,769.38 C387.65,770.16 388.62,770.95 389.60,771.72 C390.57,772.50 391.54,773.27 392.52,774.04 C393.49,774.81 394.47,775.57 395.45,776.33 C396.43,777.08 397.42,777.84 398.40,778.58 C399.39,779.33 400.37,780.07 401.36,780.81 C402.35,781.55 403.34,782.28 404.34,783.00 C405.33,783.73 406.32,784.45 407.32,785.17 C408.32,785.88 409.32,786.59 410.32,787.30 C411.33,788.00 412.33,788.70 413.34,789.40 C414.34,790.09 415.35,790.78 416.36,791.46 C417.37,792.14 418.39,792.82 419.40,793.49 C420.42,794.16 421.43,794.83 422.45,795.49 C423.47,796.15 424.49,796.80 425.52,797.45 C426.54,798.10 427.57,798.74 428.60,799.38 C429.62,800.02 430.65,800.65 431.69,801.27 C432.72,801.90 433.75,802.52 434.79,803.13 C435.83,803.74 436.87,804.35 437.91,804.95 C438.95,805.55 439.99,806.15 441.04,806.74 C442.08,807.33 443.13,807.91 444.18,808.49 C445.23,809.07 446.28,809.64 447.33,810.21 C448.39,810.77 449.44,811.33 450.50,811.89 C451.56,812.44 452.62,812.99 453.68,813.53 C454.74,814.07 455.81,814.61 456.87,815.14 C457.94,815.67 459.01,816.19 460.08,816.71 C461.15,817.23 462.22,817.74 463.30,818.25 C464.37,818.75 465.45,819.25 466.53,819.75 C467.61,820.24 468.69,820.73 469.77,821.22 C470.85,821.70 471.94,822.18 473.03,822.65 C474.11,823.12 475.20,823.58 476.29,824.04 C477.38,824.50 478.48,824.96 479.57,825.40 C480.67,825.85 481.77,826.29 482.87,826.73 C483.97,827.17 485.07,827.60 486.17,828.02 C487.28,828.45 488.38,828.87 489.49,829.28 C490.60,829.69 491.71,830.10 492.82,830.50 C493.93,830.91 495.05,831.30 496.17,831.70 C497.28,832.09 498.40,832.47 499.52,832.85 C500.64,833.23 501.76,833.61 502.89,833.98 C504.01,834.35 505.14,834.71 506.27,835.07 C507.40,835.43 508.53,835.78 509.66,836.13 C510.79,836.48 511.93,836.82 513.07,837.16 C514.20,837.50 515.34,837.83 516.48,838.16 C517.62,838.49 518.77,838.81 519.91,839.12 C521.06,839.44 522.21,839.75 523.36,840.06 C524.50,840.36 525.66,840.66 526.81,840.96 C527.96,841.25 529.12,841.54 530.28,841.83 C531.43,842.11 532.59,842.39 533.75,842.67 C534.92,842.94 536.08,843.21 537.24,843.47 C538.41,843.74 539.58,844.00 540.75,844.25 C541.92,844.51 543.09,844.76 544.26,845.00 C545.44,845.25 546.61,845.49 547.79,845.72 C548.97,845.96 550.15,846.19 551.33,846.41 C552.51,846.64 553.69,846.86 554.88,847.07 C556.07,847.29 557.25,847.50 558.44,847.71 C559.63,847.92 560.83,848.12 562.02,848.32 C563.21,848.52 564.41,848.71 565.61,848.90 C566.81,849.09 568.00,849.28 569.21,849.46 C570.41,849.64 571.61,849.82 572.82,849.99 C574.02,850.17 575.23,850.34 576.44,850.50 C577.65,850.67 578.86,850.83 580.08,850.99 C581.29,851.15 582.51,851.30 583.73,851.46 C584.94,851.61 586.16,851.75 587.39,851.90 C588.61,852.04 589.83,852.18 591.06,852.32 C592.28,852.46 593.51,852.59 594.74,852.72 C595.97,852.85 597.20,852.98 598.44,853.11 C599.67,853.23 600.90,853.35 602.14,853.47 C603.38,853.59 604.62,853.71 605.86,853.82 C607.10,853.93 608.35,854.04 609.59,854.15 C610.84,854.25 612.09,854.36 613.34,854.46 C614.58,854.56 615.84,854.66 617.09,854.76 C618.34,854.85 619.60,854.95 620.86,855.04 C622.11,855.13 623.37,855.22 624.63,855.31 C625.90,855.39 627.16,855.48 628.42,855.56 C629.69,855.64 630.96,855.72 632.23,855.80 C633.50,855.88 634.77,855.95 636.04,856.02 C637.31,856.10 638.59,856.17 639.86,856.24 C641.14,856.31 642.42,856.37 643.70,856.44 C644.98,856.50 646.27,856.57 647.55,856.63 C648.84,856.69 650.12,856.75 651.41,856.81 C652.70,856.87 653.99,856.92 655.28,856.98 C656.58,857.03 657.87,857.08 659.17,857.13 C660.46,857.18 661.76,857.23 663.06,857.28 C664.36,857.33 665.66,857.38 666.97,857.42 C668.27,857.46 669.58,857.51 670.89,857.55 C672.19,857.59 673.50,857.63 674.82,857.67 C676.13,857.71 677.44,857.75 678.76,857.78 C680.07,857.82 681.39,857.85 682.71,857.88 C684.03,857.92 685.35,857.95 686.68,857.98 C688.00,858.01 689.33,858.04 690.65,858.07 C691.98,858.09 693.31,858.12 694.64,858.15 C695.97,858.17 697.30,858.19 698.64,858.22 C699.97,858.24 701.31,858.27 702.65,858.28 C703.99,858.30 705.33,858.30 706.67,858.30 C708.02,858.30 709.36,858.30 710.71,858.30 C712.05,858.30 713.40,858.30 714.75,858.30 C716.10,858.30 717.45,858.30 718.81,858.30 C720.16,858.30 721.52,858.30 722.88,858.30 C724.23,858.30 725.59,858.30 726.96,858.30 C728.32,858.30 729.68,858.30 731.05,858.30 C732.41,858.30 733.78,858.30 735.15,858.30 C736.52,858.30 737.89,858.30 739.26,858.30 C740.64,858.30 742.01,858.30 743.39,858.30 C744.76,858.30 746.14,858.30 747.52,858.30 C748.90,858.30 750.29,858.30 751.67,858.30 C753.06,858.30 754.44,858.30 755.83,858.30 C757.22,858.30 759.30,858.30 760.00,858.30" fill="none" stroke="#ff00ff" stroke-width="3.4" stroke-linejoin="round" stroke-linecap="round"/>
<polygon points="123.80,385.51 113.95,402.51 133.65,402.51" fill="#ff00ff"/>
<polygon points="164.70,466.53 154.85,483.53 174.55,483.53" fill="#ff00ff"/>
<polygon points="205.61,539.14 195.76,556.14 215.46,556.14" fill="#ff00ff"/>
<polygon points="287.42,660.48 277.57,677.48 297.27,677.48" fill="#ff00ff"/>
<polygon points="369.23,748.85 359.38,765.85 379.08,765.85" fill="#ff00ff"/>
<polygon points="451.04,806.14 441.19,823.14 460.89,823.14" fill="#ff00ff"/>
<polygon points="532.85,834.88 523.00,851.88 542.70,851.88" fill="#ff00ff"/>
<polygon points="614.66,844.88 604.81,861.88 624.51,861.88" fill="#ff00ff"/>
<polygon points="696.47,846.84 686.62,863.84 706.32,863.84" fill="#ff00ff"/>
<path d="M123.80,428.00 C123.81,428.01 123.81,428.00 123.83,428.08 C123.85,428.16 123.88,428.32 123.90,428.48 C123.93,428.64 123.97,428.83 124.01,429.05 C124.05,429.27 124.09,429.51 124.14,429.78 C124.19,430.04 124.24,430.33 124.30,430.64 C124.35,430.95 124.42,431.29 124.48,431.64 C124.54,432.00 124.61,432.38 124.68,432.77 C124.75,433.17 124.83,433.59 124.91,434.03 C124.99,434.46 125.07,434.92 125.15,435.40 C125.24,435.88 125.33,436.37 125.42,436.89 C125.51,437.41 125.61,437.94 125.70,438.50 C125.80,439.05 125.90,439.62 126.01,440.21 C126.11,440.81 126.22,441.42 126.33,442.05 C126.44,442.67 126.55,443.32 126.67,443.99 C126.78,444.65 126.90,445.33 127.02,446.04 C127.15,446.74 127.27,447.46 127.40,448.19 C127.53,448.93 127.66,449.69 127.79,450.46 C127.92,451.23 128.06,452.02 128.20,452.83 C128.34,453.64 128.48,454.46 128.62,455.30 C128.76,456.14 128.91,457.00 129.06,457.88 C129.21,458.76 129.36,459.65 129.51,460.56 C129.67,461.47 129.82,462.40 129.98,463.34 C130.14,464.29 130.31,465.25 130.47,466.22 C130.63,467.20 130.80,468.19 130.97,469.20 C131.14,470.21 131.31,471.24 131.49,472.28 C131.66,473.32 131.84,474.38 132.02,475.45 C132.19,476.53 132.38,477.61 132.56,478.72 C132.74,479.82 132.93,480.94 133.12,482.08 C133.31,483.21 133.50,484.36 133.69,485.52 C133.88,486.69 134.08,487.87 134.28,489.06 C134.48,490.25 134.68,491.46 134.88,492.68 C135.08,493.90 135.29,495.14 135.49,496.38 C135.70,497.63 135.91,498.89 136.12,500.17 C136.33,501.44 136.55,502.73 136.76,504.03 C136.98,505.33 137.20,506.64 137.42,507.97 C137.64,509.29 137.86,510.63 138.09,511.97 C138.31,513.32 138.54,514.68 138.77,516.05 C139.00,517.42 139.23,518.80 139.46,520.19 C139.69,521.58 139.93,522.99 140.17,524.40 C140.41,525.81 140.65,527.23 140.89,528.66 C141.13,530.09 141.37,531.53 141.62,532.97 C141.87,534.42 142.11,535.88 142.36,537.34 C142.62,538.80 142.87,540.27 143.12,541.75 C143.38,543.23 143.63,544.72 143.89,546.21 C144.15,547.70 144.41,549.20 144.68,550.70 C144.94,552.20 145.20,553.71 145.47,555.23 C145.74,556.74 146.01,558.26 146.28,559.78 C146.55,561.30 146.82,562.83 147.10,564.36 C147.37,565.89 147.65,567.43 147.93,568.97 C148.21,570.50 148.49,572.05 148.77,573.59 C149.05,575.14 149.34,576.68 149.62,578.23 C149.91,579.78 150.20,581.34 150.49,582.89 C150.78,584.45 151.08,586.01 151.37,587.57 C151.66,589.13 151.96,590.69 152.26,592.25 C152.56,593.82 152.86,595.38 153.16,596.95 C153.46,598.52 153.77,600.09 154.08,601.66 C154.38,603.23 154.69,604.80 155.00,606.37 C155.31,607.94 155.62,609.51 155.94,611.08 C156.25,612.65 156.57,614.23 156.88,615.80 C157.20,617.37 157.52,618.94 157.84,620.51 C158.16,622.09 158.49,623.66 158.81,625.23 C159.14,626.80 159.47,628.37 159.79,629.94 C160.12,631.51 160.45,633.07 160.79,634.64 C161.12,636.21 161.45,637.77 161.79,639.34 C162.13,640.90 162.46,642.46 162.80,644.02 C163.14,645.58 163.49,647.13 163.83,648.69 C164.17,650.24 164.52,651.79 164.87,653.33 C165.21,654.88 165.56,656.42 165.91,657.95 C166.27,659.49 166.62,661.02 166.97,662.54 C167.33,664.06 167.68,665.58 168.04,667.09 C168.40,668.60 168.76,670.10 169.12,671.59 C169.48,673.09 169.85,674.57 170.21,676.05 C170.58,677.53 170.94,679.00 171.31,680.45 C171.68,681.91 172.05,683.36 172.43,684.80 C172.80,686.24 173.17,687.66 173.55,689.08 C173.92,690.49 174.30,691.90 174.68,693.29 C175.06,694.69 175.44,696.07 175.82,697.44 C176.21,698.80 176.59,700.16 176.98,701.50 C177.36,702.85 177.75,704.18 178.14,705.49 C178.53,706.81 178.92,708.11 179.32,709.40 C179.71,710.69 180.10,711.96 180.50,713.22 C180.90,714.48 181.30,715.72 181.70,716.95 C182.10,718.18 182.50,719.39 182.90,720.59 C183.31,721.79 183.71,722.98 184.12,724.14 C184.52,725.31 184.93,726.47 185.34,727.61 C185.75,728.75 186.17,729.87 186.58,730.98 C186.99,732.09 187.41,733.19 187.82,734.27 C188.24,735.36 188.66,736.43 189.08,737.48 C189.50,738.54 189.92,739.58 190.35,740.61 C190.77,741.64 191.20,742.66 191.62,743.67 C192.05,744.67 192.48,745.67 192.91,746.65 C193.34,747.63 193.77,748.60 194.21,749.56 C194.64,750.51 195.07,751.46 195.51,752.39 C195.95,753.33 196.39,754.25 196.83,755.17 C197.27,756.08 197.71,756.98 198.15,757.87 C198.60,758.76 199.04,759.64 199.49,760.51 C199.93,761.39 200.38,762.25 200.83,763.10 C201.28,763.95 201.74,764.79 202.19,765.62 C202.64,766.45 203.10,767.27 203.55,768.08 C204.01,768.90 204.47,769.70 204.93,770.50 C205.39,771.29 205.85,772.08 206.31,772.85 C206.77,773.63 207.24,774.40 207.70,775.16 C208.17,775.92 208.64,776.67 209.11,777.41 C209.58,778.16 210.05,778.89 210.52,779.62 C210.99,780.35 211.47,781.07 211.94,781.78 C212.42,782.50 212.90,783.20 213.37,783.90 C213.85,784.60 214.33,785.29 214.82,785.97 C215.30,786.66 215.78,787.34 216.27,788.01 C216.75,788.68 217.24,789.34 217.73,790.00 C218.22,790.65 218.71,791.30 219.20,791.95 C219.69,792.59 220.18,793.23 220.68,793.86 C221.17,794.49 221.67,795.12 222.16,795.74 C222.66,796.36 223.16,796.97 223.66,797.58 C224.16,798.19 224.67,798.79 225.17,799.39 C225.67,799.98 226.18,800.57 226.69,801.16 C227.19,801.74 227.70,802.32 228.21,802.90 C228.72,803.47 229.23,804.04 229.75,804.60 C230.26,805.16 230.77,805.72 231.29,806.27 C231.81,806.82 232.32,807.37 232.84,807.91 C233.36,808.45 233.88,808.99 234.41,809.52 C234.93,810.05 235.45,810.57 235.98,811.10 C236.50,811.62 237.03,812.13 237.56,812.64 C238.09,813.15 238.62,813.66 239.15,814.16 C239.68,814.66 240.21,815.16 240.75,815.65 C241.28,816.14 241.82,816.62 242.35,817.10 C242.89,817.59 243.43,818.06 243.97,818.53 C244.51,819.01 245.05,819.47 245.60,819.94 C246.14,820.40 246.68,820.86 247.23,821.31 C247.78,821.76 248.33,822.21 248.87,822.66 C249.42,823.10 249.97,823.54 250.53,823.98 C251.08,824.41 251.63,824.84 252.19,825.27 C252.74,825.70 253.30,826.12 253.86,826.54 C254.42,826.96 254.98,827.37 255.54,827.78 C256.10,828.19 256.66,828.59 257.23,828.99 C257.79,829.39 258.36,829.79 258.92,830.18 C259.49,830.57 260.06,830.96 260.63,831.35 C261.20,831.73 261.77,832.11 262.35,832.48 C262.92,832.86 263.49,833.23 264.07,833.60 C264.64,833.96 265.22,834.32 265.80,834.68 C266.38,835.04 266.96,835.39 267.54,835.74 C268.12,836.08 268.71,836.43 269.29,836.76 C269.88,837.10 270.46,837.43 271.05,837.76 C271.64,838.09 272.23,838.41 272.82,838.73 C273.41,839.04 274.00,839.36 274.59,839.66 C275.19,839.97 275.78,840.27 276.38,840.57 C276.97,840.87 277.57,841.16 278.17,841.45 C278.77,841.73 279.37,842.02 279.97,842.29 C280.58,842.57 281.18,842.84 281.78,843.11 C282.39,843.37 282.99,843.64 283.60,843.89 C284.21,844.15 284.82,844.40 285.43,844.65 C286.04,844.90 286.65,845.14 287.27,845.38 C287.88,845.61 288.49,845.85 289.11,846.07 C289.73,846.30 290.34,846.52 290.96,846.74 C291.58,846.96 292.20,847.17 292.83,847.38 C293.45,847.59 294.07,847.80 294.70,848.00 C295.32,848.20 295.95,848.39 296.57,848.58 C297.20,848.78 297.83,848.96 298.46,849.14 C299.09,849.33 299.72,849.51 300.36,849.68 C300.99,849.85 301.62,850.02 302.26,850.19 C302.90,850.36 303.53,850.52 304.17,850.68 C304.81,850.83 305.45,850.99 306.09,851.14 C306.73,851.29 307.38,851.44 308.02,851.58 C308.67,851.72 309.31,851.86 309.96,852.00 C310.61,852.13 311.26,852.26 311.91,852.39 C312.56,852.52 313.21,852.65 313.86,852.77 C314.51,852.89 315.17,853.01 315.82,853.13 C316.48,853.24 317.13,853.35 317.79,853.46 C318.45,853.57 319.11,853.68 319.77,853.78 C320.43,853.88 321.09,853.98 321.76,854.08 C322.42,854.18 323.09,854.27 323.75,854.36 C324.42,854.46 325.09,854.54 325.76,854.63 C326.43,854.72 327.10,854.80 327.77,854.88 C328.44,854.97 329.11,855.05 329.79,855.12 C330.46,855.20 331.14,855.28 331.82,855.35 C332.50,855.42 333.17,855.49 333.85,855.56 C334.53,855.63 335.22,855.70 335.90,855.77 C336.58,855.83 337.27,855.89 337.95,855.96 C338.64,856.02 339.32,856.08 340.01,856.14 C340.70,856.20 341.39,856.25 342.08,856.31 C342.77,856.36 343.46,856.42 344.16,856.47 C344.85,856.52 345.55,856.57 346.24,856.62 C346.94,856.67 347.64,856.72 348.34,856.77 C349.04,856.81 349.74,856.86 350.44,856.90 C351.14,856.95 351.84,856.99 352.55,857.03 C353.25,857.07 353.96,857.11 354.67,857.15 C355.37,857.19 356.08,857.23 356.79,857.27 C357.50,857.31 358.21,857.34 358.92,857.38 C359.64,857.41 360.35,857.45 361.07,857.48 C361.78,857.52 362.50,857.55 363.22,857.58 C363.93,857.61 364.65,857.64 365.37,857.67 C366.09,857.70 366.82,857.73 367.54,857.76 C368.26,857.79 368.99,857.82 369.71,857.84 C370.44,857.87 371.16,857.89 371.89,857.92 C372.62,857.94 373.35,857.97 374.08,857.99 C374.81,858.02 375.55,858.04 376.28,858.06 C377.01,858.08 377.75,858.10 378.48,858.13 C379.22,858.15 379.96,858.17 380.70,858.19 C381.44,858.21 382.18,858.23 382.92,858.24 C383.66,858.26 384.40,858.29 385.15,858.30 C385.89,858.31 386.64,858.30 387.38,858.30 C388.13,858.30 388.88,858.30 389.63,858.30 C390.38,858.30 391.13,858.30 391.88,858.30 C392.63,858.30 393.39,858.30 394.14,858.30 C394.89,858.30 395.65,858.30 396.41,858.30 C397.16,858.30 397.92,858.30 398.68,858.30 C399.44,858.30 400.20,858.30 400.97,858.30 C401.73,858.30 402.49,858.30 403.26,858.30 C404.02,858.30 404.79,858.30 405.56,858.30 C406.32,858.30 407.09,858.30 407.86,858.30 C408.63,858.30 409.41,858.30 410.18,858.30 C410.95,858.30 411.72,858.30 412.50,858.30 C413.28,858.30 414.05,858.30 414.83,858.30 C415.61,858.30 416.39,858.30 417.17,858.30 C417.95,858.30 418.73,858.30 419.51,858.30 C420.30,858.30 421.08,858.30 421.87,858.30 C422.65,858.30 423.44,858.30 424.23,858.30 C425.01,858.30 425.80,858.30 426.59,858.30 C427.39,858.30 428.18,858.30 428.97,858.30 C429.76,858.30 430.56,858.30 431.35,858.30 C432.15,858.30 432.95,858.30 433.75,858.30 C434.54,858.30 435.34,858.30 436.14,858.30 C436.95,858.30 437.75,858.30 438.55,858.30 C439.35,858.30 440.16,858.30 440.96,858.30 C441.77,858.30 442.58,858.30 443.39,858.30 C444.19,858.30 445.00,858.30 445.82,858.30 C446.63,858.30 447.44,858.30 448.25,858.30 C449.07,858.30 449.88,858.30 450.70,858.30 C451.51,858.30 452.33,858.30 453.15,858.30 C453.97,858.30 454.79,858.30 455.61,858.30 C456.43,858.30 457.25,858.30 458.08,858.30 C458.90,858.30 459.72,858.30 460.55,858.30 C461.38,858.30 462.20,858.30 463.03,858.30 C463.86,858.30 464.69,858.30 465.52,858.30 C466.35,858.30 467.18,858.30 468.02,858.30 C468.85,858.30 469.69,858.30 470.52,858.30 C471.36,858.30 472.20,858.30 473.03,858.30 C473.87,858.30 474.71,858.30 475.55,858.30 C476.39,858.30 477.24,858.30 478.08,858.30 C478.92,858.30 479.77,858.30 480.62,858.30 C481.46,858.30 482.31,858.30 483.16,858.30 C484.01,858.30 484.86,858.30 485.71,858.30 C486.56,858.30 487.41,858.30 488.26,858.30 C489.12,858.30 489.97,858.30 490.83,858.30 C491.68,858.30 492.54,858.30 493.40,858.30 C494.26,858.30 495.12,858.30 495.98,858.30 C496.84,858.30 497.70,858.30 498.56,858.30 C499.43,858.30 500.29,858.30 501.16,858.30 C502.02,858.30 502.89,858.30 503.76,858.30 C504.63,858.30 505.49,858.30 506.37,858.30 C507.24,858.30 508.11,858.30 508.98,858.30 C509.85,858.30 510.73,858.30 511.60,858.30 C512.48,858.30 513.36,858.30 514.23,858.30 C515.11,858.30 515.99,858.30 516.87,858.30 C517.75,858.30 518.63,858.30 519.52,858.30 C520.40,858.30 521.28,858.30 522.17,858.30 C523.05,858.30 523.94,858.30 524.83,858.30 C525.72,858.30 526.60,858.30 527.49,858.30 C528.38,858.30 529.28,858.30 530.17,858.30 C531.06,858.30 532.40,858.30 532.85,858.30" fill="none" stroke="#800000" stroke-width="3.4" stroke-linejoin="round" stroke-linecap="round"/>
<polygon points="112.47,427.99 129.47,418.14 129.47,437.84" fill="#800000"/>
<polygon points="153.37,671.44 170.37,661.59 170.37,681.29" fill="#800000"/>
<polygon points="194.28,791.90 211.28,782.05 211.28,801.75" fill="#800000"/>
<polygon points="276.09,855.77 293.09,845.92 293.09,865.62" fill="#800000"/>
<polygon points="357.90,858.30 374.90,848.45 374.90,868.15" fill="#800000"/>
<polygon points="439.71,858.43 456.71,848.58 456.71,868.28" fill="#800000"/>
<polygon points="521.52,858.43 538.52,848.58 538.52,868.28" fill="#800000"/>
<path d="M123.80,435.60 C123.80,435.60 123.81,435.54 123.82,435.61 C123.83,435.69 123.85,435.89 123.86,436.07 C123.88,436.26 123.90,436.48 123.93,436.73 C123.95,436.98 123.98,437.26 124.00,437.57 C124.03,437.88 124.07,438.21 124.10,438.57 C124.13,438.93 124.17,439.32 124.21,439.73 C124.25,440.14 124.29,440.58 124.33,441.03 C124.37,441.49 124.42,441.98 124.46,442.48 C124.51,442.99 124.56,443.52 124.61,444.07 C124.66,444.63 124.72,445.20 124.77,445.80 C124.83,446.40 124.88,447.02 124.94,447.66 C125.00,448.30 125.06,448.97 125.12,449.65 C125.19,450.34 125.25,451.05 125.32,451.77 C125.38,452.50 125.45,453.25 125.52,454.03 C125.59,454.80 125.66,455.59 125.73,456.41 C125.81,457.22 125.88,458.05 125.96,458.91 C126.04,459.77 126.11,460.64 126.19,461.54 C126.27,462.44 126.35,463.36 126.44,464.30 C126.52,465.23 126.61,466.19 126.69,467.17 C126.78,468.15 126.87,469.15 126.96,470.17 C127.04,471.19 127.14,472.23 127.23,473.29 C127.32,474.35 127.41,475.43 127.51,476.52 C127.61,477.62 127.70,478.74 127.80,479.88 C127.90,481.01 128.00,482.17 128.10,483.35 C128.20,484.52 128.31,485.71 128.41,486.93 C128.52,488.14 128.62,489.37 128.73,490.62 C128.84,491.87 128.95,493.14 129.06,494.42 C129.17,495.70 129.28,497.01 129.39,498.33 C129.50,499.65 129.62,500.99 129.73,502.34 C129.85,503.69 129.97,505.06 130.09,506.45 C130.21,507.84 130.33,509.24 130.45,510.66 C130.57,512.08 130.69,513.52 130.82,514.97 C130.94,516.42 131.07,517.88 131.19,519.36 C131.32,520.84 131.45,522.34 131.58,523.85 C131.71,525.36 131.84,526.88 131.97,528.41 C132.10,529.95 132.24,531.50 132.37,533.06 C132.51,534.62 132.64,536.20 132.78,537.79 C132.92,539.37 133.06,540.97 133.20,542.58 C133.34,544.19 133.48,545.81 133.62,547.44 C133.76,549.07 133.91,550.71 134.05,552.36 C134.20,554.01 134.34,555.67 134.49,557.34 C134.64,559.01 134.79,560.69 134.94,562.37 C135.09,564.06 135.24,565.75 135.39,567.45 C135.55,569.15 135.70,570.86 135.86,572.57 C136.01,574.28 136.17,576.00 136.33,577.72 C136.48,579.45 136.64,581.17 136.80,582.91 C136.96,584.64 137.12,586.38 137.29,588.12 C137.45,589.86 137.61,591.60 137.78,593.35 C137.94,595.09 138.11,596.84 138.28,598.59 C138.44,600.34 138.61,602.09 138.78,603.84 C138.95,605.59 139.12,607.34 139.29,609.09 C139.47,610.84 139.64,612.59 139.81,614.34 C139.99,616.09 140.17,617.84 140.34,619.58 C140.52,621.32 140.70,623.07 140.88,624.81 C141.06,626.54 141.24,628.28 141.42,630.01 C141.60,631.74 141.78,633.47 141.97,635.19 C142.15,636.91 142.33,638.63 142.52,640.34 C142.71,642.05 142.89,643.76 143.08,645.45 C143.27,647.15 143.46,648.84 143.65,650.53 C143.84,652.21 144.03,653.89 144.23,655.55 C144.42,657.22 144.61,658.88 144.81,660.53 C145.00,662.18 145.20,663.82 145.40,665.45 C145.59,667.08 145.79,668.70 145.99,670.30 C146.19,671.91 146.39,673.51 146.59,675.10 C146.80,676.68 147.00,678.26 147.20,679.82 C147.41,681.38 147.61,682.93 147.82,684.47 C148.02,686.01 148.23,687.54 148.44,689.05 C148.65,690.56 148.86,692.06 149.07,693.54 C149.28,695.02 149.49,696.50 149.70,697.95 C149.92,699.41 150.13,700.85 150.35,702.28 C150.56,703.70 150.78,705.11 150.99,706.51 C151.21,707.91 151.43,709.29 151.65,710.65 C151.87,712.02 152.09,713.37 152.31,714.70 C152.53,716.03 152.75,717.35 152.98,718.65 C153.20,719.95 153.42,721.24 153.65,722.51 C153.87,723.78 154.10,725.03 154.33,726.27 C154.56,727.51 154.78,728.73 155.01,729.94 C155.24,731.15 155.47,732.34 155.71,733.52 C155.94,734.70 156.17,735.86 156.40,737.02 C156.64,738.17 156.87,739.31 157.11,740.43 C157.35,741.56 157.58,742.67 157.82,743.78 C158.06,744.88 158.30,745.96 158.54,747.04 C158.78,748.12 159.02,749.18 159.26,750.24 C159.50,751.29 159.75,752.33 159.99,753.36 C160.23,754.40 160.48,755.42 160.73,756.43 C160.97,757.44 161.22,758.44 161.47,759.43 C161.72,760.42 161.96,761.40 162.21,762.37 C162.47,763.34 162.72,764.30 162.97,765.25 C163.22,766.20 163.47,767.14 163.73,768.07 C163.98,769.00 164.24,769.92 164.49,770.83 C164.75,771.75 165.01,772.65 165.27,773.54 C165.52,774.43 165.78,775.30 166.04,776.17 C166.30,777.04 166.56,777.90 166.83,778.75 C167.09,779.60 167.35,780.44 167.62,781.26 C167.88,782.09 168.15,782.91 168.41,783.71 C168.68,784.52 168.94,785.31 169.21,786.10 C169.48,786.88 169.75,787.66 170.02,788.42 C170.29,789.18 170.56,789.93 170.83,790.68 C171.10,791.42 171.38,792.15 171.65,792.87 C171.93,793.59 172.20,794.30 172.48,795.00 C172.75,795.70 173.03,796.39 173.31,797.07 C173.58,797.75 173.86,798.41 174.14,799.07 C174.42,799.73 174.70,800.38 174.98,801.01 C175.27,801.65 175.55,802.28 175.83,802.89 C176.12,803.51 176.40,804.12 176.69,804.72 C176.97,805.32 177.26,805.90 177.54,806.48 C177.83,807.06 178.12,807.63 178.41,808.20 C178.70,808.76 178.99,809.31 179.28,809.85 C179.57,810.40 179.86,810.93 180.16,811.46 C180.45,811.99 180.74,812.51 181.04,813.02 C181.33,813.53 181.63,814.03 181.93,814.52 C182.22,815.02 182.52,815.51 182.82,815.98 C183.12,816.46 183.42,816.93 183.72,817.40 C184.02,817.86 184.32,818.32 184.62,818.77 C184.92,819.22 185.23,819.66 185.53,820.10 C185.84,820.53 186.14,820.96 186.45,821.38 C186.75,821.80 187.06,822.22 187.37,822.63 C187.68,823.03 187.98,823.44 188.29,823.83 C188.60,824.23 188.91,824.62 189.23,825.00 C189.54,825.38 189.85,825.76 190.16,826.13 C190.48,826.50 190.79,826.87 191.11,827.23 C191.42,827.58 191.74,827.94 192.05,828.29 C192.37,828.63 192.69,828.98 193.01,829.31 C193.33,829.65 193.65,829.98 193.97,830.31 C194.29,830.64 194.61,830.96 194.93,831.27 C195.25,831.59 195.58,831.90 195.90,832.21 C196.23,832.51 196.55,832.82 196.88,833.11 C197.20,833.41 197.53,833.70 197.86,833.99 C198.19,834.28 198.52,834.56 198.84,834.84 C199.17,835.12 199.50,835.39 199.84,835.66 C200.17,835.93 200.50,836.20 200.83,836.46 C201.17,836.72 201.50,836.98 201.84,837.23 C202.17,837.48 202.51,837.73 202.84,837.98 C203.18,838.22 203.52,838.47 203.86,838.70 C204.19,838.94 204.53,839.18 204.87,839.41 C205.22,839.64 205.56,839.86 205.90,840.09 C206.24,840.31 206.58,840.53 206.93,840.75 C207.27,840.96 207.62,841.18 207.96,841.39 C208.31,841.59 208.65,841.80 209.00,842.00 C209.35,842.21 209.70,842.41 210.05,842.60 C210.39,842.80 210.74,842.99 211.10,843.18 C211.45,843.37 211.80,843.56 212.15,843.74 C212.50,843.93 212.86,844.11 213.21,844.29 C213.56,844.46 213.92,844.64 214.28,844.81 C214.63,844.98 214.99,845.15 215.35,845.32 C215.70,845.49 216.06,845.65 216.42,845.81 C216.78,845.97 217.14,846.13 217.50,846.29 C217.87,846.44 218.23,846.60 218.59,846.75 C218.95,846.90 219.32,847.05 219.68,847.19 C220.05,847.34 220.41,847.48 220.78,847.62 C221.14,847.76 221.51,847.90 221.88,848.04 C222.25,848.18 222.62,848.31 222.99,848.44 C223.36,848.57 223.73,848.70 224.10,848.83 C224.47,848.96 224.84,849.08 225.22,849.21 C225.59,849.33 225.96,849.45 226.34,849.57 C226.71,849.69 227.09,849.80 227.46,849.92 C227.84,850.03 228.22,850.15 228.60,850.26 C228.97,850.37 229.35,850.48 229.73,850.58 C230.11,850.69 230.49,850.80 230.88,850.90 C231.26,851.00 231.64,851.11 232.02,851.21 C232.41,851.31 232.79,851.40 233.18,851.50 C233.56,851.60 233.95,851.69 234.33,851.78 C234.72,851.88 235.11,851.97 235.50,852.06 C235.88,852.15 236.27,852.24 236.66,852.32 C237.05,852.41 237.44,852.49 237.84,852.58 C238.23,852.66 238.62,852.74 239.01,852.82 C239.41,852.91 239.80,852.98 240.20,853.06 C240.59,853.14 240.99,853.22 241.38,853.29 C241.78,853.37 242.18,853.44 242.58,853.51 C242.97,853.58 243.37,853.66 243.77,853.72 C244.17,853.79 244.57,853.86 244.97,853.93 C245.38,854.00 245.78,854.06 246.18,854.13 C246.58,854.19 246.99,854.26 247.39,854.32 C247.80,854.38 248.20,854.44 248.61,854.50 C249.02,854.56 249.42,854.62 249.83,854.68 C250.24,854.74 250.65,854.79 251.06,854.85 C251.47,854.90 251.88,854.96 252.29,855.01 C252.70,855.07 253.11,855.12 253.53,855.17 C253.94,855.22 254.35,855.27 254.77,855.32 C255.18,855.37 255.60,855.42 256.02,855.47 C256.43,855.52 256.85,855.56 257.27,855.61 C257.68,855.65 258.10,855.70 258.52,855.74 C258.94,855.79 259.36,855.83 259.78,855.87 C260.20,855.92 260.63,855.96 261.05,856.00 C261.47,856.04 261.89,856.08 262.32,856.12 C262.74,856.16 263.17,856.20 263.59,856.24 C264.02,856.28 264.45,856.31 264.87,856.35 C265.30,856.39 265.73,856.42 266.16,856.46 C266.59,856.49 267.02,856.53 267.45,856.56 C267.88,856.60 268.31,856.63 268.74,856.66 C269.18,856.70 269.61,856.73 270.04,856.76 C270.48,856.79 270.91,856.82 271.35,856.85 C271.78,856.88 272.22,856.91 272.66,856.94 C273.09,856.97 273.53,857.00 273.97,857.03 C274.41,857.05 274.85,857.08 275.29,857.11 C275.73,857.13 276.17,857.16 276.61,857.19 C277.05,857.21 277.49,857.24 277.94,857.26 C278.38,857.29 278.83,857.31 279.27,857.34 C279.72,857.36 280.16,857.38 280.61,857.41 C281.05,857.43 281.50,857.45 281.95,857.47 C282.40,857.50 282.85,857.52 283.30,857.54 C283.75,857.56 284.20,857.58 284.65,857.60 C285.10,857.62 285.55,857.64 286.00,857.66 C286.46,857.68 286.91,857.70 287.36,857.72 C287.82,857.73 288.27,857.75 288.73,857.77 C289.19,857.79 289.64,857.80 290.10,857.82 C290.56,857.84 291.02,857.85 291.47,857.87 C291.93,857.89 292.39,857.90 292.85,857.92 C293.31,857.93 293.78,857.95 294.24,857.96 C294.70,857.98 295.16,857.99 295.63,858.01 C296.09,858.02 296.55,858.03 297.02,858.05 C297.49,858.06 297.95,858.07 298.42,858.09 C298.88,858.10 299.35,858.11 299.82,858.12 C300.29,858.13 300.76,858.15 301.23,858.16 C301.70,858.17 302.17,858.18 302.64,858.19 C303.11,858.20 303.58,858.21 304.06,858.22 C304.53,858.23 305.00,858.24 305.48,858.25 C305.95,858.26 306.43,858.27 306.90,858.28 C307.38,858.29 307.86,858.30 308.33,858.30 C308.81,858.30 309.29,858.30 309.77,858.30 C310.25,858.30 310.73,858.30 311.21,858.30 C311.69,858.30 312.17,858.30 312.65,858.30 C313.13,858.30 313.62,858.30 314.10,858.30 C314.58,858.30 315.07,858.30 315.55,858.30 C316.04,858.30 316.52,858.30 317.01,858.30 C317.50,858.30 317.98,858.30 318.47,858.30 C318.96,858.30 319.45,858.30 319.94,858.30 C320.43,858.30 320.92,858.30 321.41,858.30 C321.90,858.30 322.39,858.30 322.88,858.30 C323.38,858.30 323.87,858.30 324.37,858.30 C324.86,858.30 325.35,858.30 325.85,858.30 C326.35,858.30 326.84,858.30 327.34,858.30 C327.84,858.30 328.33,858.30 328.83,858.30 C329.33,858.30 329.83,858.30 330.33,858.30 C330.83,858.30 331.33,858.30 331.83,858.30 C332.34,858.30 332.84,858.30 333.34,858.30 C333.84,858.30 334.35,858.30 334.85,858.30 C335.36,858.30 335.86,858.30 336.37,858.30 C336.87,858.30 337.38,858.30 337.89,858.30 C338.40,858.30 338.91,858.30 339.41,858.30 C339.92,858.30 340.43,858.30 340.94,858.30 C341.45,858.30 341.97,858.30 342.48,858.30 C342.99,858.30 343.50,858.30 344.02,858.30 C344.53,858.30 345.04,858.30 345.56,858.30 C346.07,858.30 346.59,858.30 347.11,858.30 C347.62,858.30 348.14,858.30 348.66,858.30 C349.18,858.30 349.69,858.30 350.21,858.30 C350.73,858.30 351.25,858.30 351.77,858.30 C352.30,858.30 352.82,858.30 353.34,858.30 C353.86,858.30 354.38,858.30 354.91,858.30 C355.43,858.30 355.96,858.30 356.48,858.30 C357.01,858.30 357.53,858.30 358.06,858.30 C358.59,858.30 359.11,858.30 359.64,858.30 C360.17,858.30 360.70,858.30 361.23,858.30 C361.76,858.30 362.29,858.30 362.82,858.30 C363.35,858.30 363.88,858.30 364.42,858.30 C364.95,858.30 365.48,858.30 366.02,858.30 C366.55,858.30 367.09,858.30 367.62,858.30 C368.16,858.30 368.96,858.30 369.23,858.30" fill="none" stroke="#008000" stroke-width="3.4" stroke-linejoin="round" stroke-linecap="round"/>
<polygon points="135.13,435.58 118.13,425.73 118.13,445.43" fill="#008000"/>
<polygon points="155.59,674.73 138.59,664.88 138.59,684.58" fill="#008000"/>
<polygon points="176.04,792.97 159.04,783.12 159.04,802.82" fill="#008000"/>
<polygon points="216.94,852.98 199.94,843.13 199.94,862.83" fill="#008000"/>
<polygon points="298.75,858.49 281.75,848.64 281.75,868.34" fill="#008000"/>
<polygon points="380.56,858.17 363.56,848.32 363.56,868.02" fill="#008000"/>
</g>
<g font-family="Liberation Sans, sans-serif" font-size="27.4" fill="#000" stroke="#000" stroke-width="0.55" stroke-linejoin="round">
<text transform="translate(94.4,866.00) scale(0.973,1)" text-anchor="end">0.0</text>
<text transform="translate(94.4,802.70) scale(0.973,1)" text-anchor="end">0.1</text>
<text transform="translate(94.4,739.40) scale(0.973,1)" text-anchor="end">0.2</text>
<text transform="translate(94.4,676.10) scale(0.973,1)" text-anchor="end">0.3</text>
<text transform="translate(94.4,612.80) scale(0.973,1)" text-anchor="end">0.4</text>
<text transform="translate(94.4,549.50) scale(0.973,1)" text-anchor="end">0.5</text>
<text transform="translate(94.4,486.20) scale(0.973,1)" text-anchor="end">0.6</text>
<text transform="translate(94.4,422.90) scale(0.973,1)" text-anchor="end">0.7</text>
<text transform="translate(94.4,359.60) scale(0.973,1)" text-anchor="end">0.8</text>
<text transform="translate(94.4,296.30) scale(0.973,1)" text-anchor="end">0.9</text>
<text transform="translate(94.4,233.00) scale(0.973,1)" text-anchor="end">1.0</text>
<text transform="translate(123.80,907.3) scale(0.973,1)" text-anchor="middle">0.0</text>
<text transform="translate(205.61,907.3) scale(0.973,1)" text-anchor="middle">0.1</text>
<text transform="translate(287.42,907.3) scale(0.973,1)" text-anchor="middle">0.2</text>
<text transform="translate(369.23,907.3) scale(0.973,1)" text-anchor="middle">0.3</text>
<text transform="translate(451.04,907.3) scale(0.973,1)" text-anchor="middle">0.4</text>
<text transform="translate(532.85,907.3) scale(0.973,1)" text-anchor="middle">0.5</text>
<text transform="translate(614.66,907.3) scale(0.973,1)" text-anchor="middle">0.6</text>
<text transform="translate(696.47,907.3) scale(0.973,1)" text-anchor="middle">0.7</text>
</g>
<text x="541" y="957" font-family="Liberation Sans, sans-serif" font-size="32" font-style="italic" fill="#000" stroke="#000" stroke-width="0.5">d</text>
<g transform="translate(32.4,578.6) rotate(-90)" font-family="Liberation Sans, sans-serif" fill="#000" stroke="#000" stroke-width="0.5"><text x="0" y="0" font-size="32" font-style="italic">p</text><text x="17.8" y="12.9" font-size="18.5" stroke-width="0.25">j</text></g>
<line x1="550.2" y1="311.3" x2="613.8" y2="311.3" stroke="#0000ff" stroke-width="3.4" stroke-linecap="round"/>
<circle cx="581.90" cy="311.30" r="8.4" fill="#0000ff"/>
<text x="621.9" y="321.00" font-family="Liberation Sans, sans-serif" font-size="29.0" fill="#000" stroke="#000" stroke-width="0.55" stroke-linejoin="round"><tspan font-style="italic">k</tspan> = 2</text>
<line x1="550.2" y1="347.2" x2="613.8" y2="347.2" stroke="#ff0000" stroke-width="3.4" stroke-linecap="round"/>
<rect x="574.50" y="339.80" width="14.8" height="14.8" fill="#ff0000"/>
<text x="621.9" y="356.90" font-family="Liberation Sans, sans-serif" font-size="29.0" fill="#000" stroke="#000" stroke-width="0.55" stroke-linejoin="round"><tspan font-style="italic">k</tspan> = 4</text>
<line x1="550.2" y1="382.9" x2="613.8" y2="382.9" stroke="#ff00ff" stroke-width="3.4" stroke-linecap="round"/>
<polygon points="581.90,371.57 572.05,388.57 591.75,388.57" fill="#ff00ff"/>
<text x="621.9" y="392.60" font-family="Liberation Sans, sans-serif" font-size="29.0" fill="#000" stroke="#000" stroke-width="0.55" stroke-linejoin="round"><tspan font-style="italic">k</tspan> = 8</text>
<line x1="550.2" y1="419.0" x2="613.8" y2="419.0" stroke="#800080" stroke-width="3.4" stroke-linecap="round"/>
<polygon points="581.90,408.65 592.25,419.00 581.90,429.35 571.55,419.00" fill="#800080"/>
<text x="621.9" y="428.70" font-family="Liberation Sans, sans-serif" font-size="29.0" fill="#000" stroke="#000" stroke-width="0.55" stroke-linejoin="round"><tspan font-style="italic">k</tspan> = 16</text>
<line x1="550.2" y1="454.8" x2="613.8" y2="454.8" stroke="#800000" stroke-width="3.4" stroke-linecap="round"/>
<polygon points="570.57,454.80 587.57,444.95 587.57,464.65" fill="#800000"/>
<text x="621.9" y="464.50" font-family="Liberation Sans, sans-serif" font-size="29.0" fill="#000" stroke="#000" stroke-width="0.55" stroke-linejoin="round"><tspan font-style="italic">k</tspan> = 32</text>
<line x1="550.2" y1="490.7" x2="613.8" y2="490.7" stroke="#008000" stroke-width="3.4" stroke-linecap="round"/>
<polygon points="593.23,490.70 576.23,480.85 576.23,500.55" fill="#008000"/>
<text x="621.9" y="500.40" font-family="Liberation Sans, sans-serif" font-size="29.0" fill="#000" stroke="#000" stroke-width="0.55" stroke-linejoin="round"><tspan font-style="italic">k</tspan> = 64</text>
</svg>
</body></html>
